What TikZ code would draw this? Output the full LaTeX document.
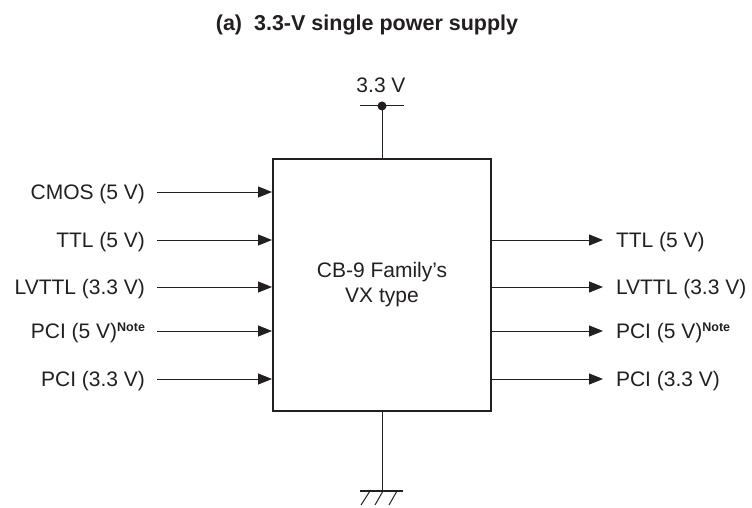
\documentclass[tikz,border=0pt]{standalone}
\usepackage{fontspec}
\setmainfont{Liberation Sans}
\usetikzlibrary{arrows.meta,calc}
\definecolor{ink}{HTML}{231F20}
\newcommand{\notesup}{\raisebox{7.5pt}{\fontsize{12.5}{14}\selectfont\bfseries Note}}
\begin{document}
\begin{tikzpicture}[x=1pt,y=-1pt,line width=1pt,draw=ink,
  every node/.style={inner sep=0pt,outer sep=0pt,text=ink},
  lbl/.style={font=\fontsize{21}{25}\selectfont},
  sig/.style={-{Triangle[length=14pt,width=11pt]},shorten >=1pt}]
\useasboundingbox (0,0) rectangle (752,508);
% title
\node[font=\bfseries\fontsize{21.5}{26}\selectfont,anchor=base] (title) at (367,31) {(a)\ \ 3.3-V single power supply};
% chip
\node[draw=ink,line width=2pt,minimum width=218pt,minimum height=252pt,anchor=north west,
      align=center,lbl] (chip) at (273,159) {CB-9 Family’s\\VX type};
% power
\node[lbl,anchor=base] (vdd) at (381,93) {3.3 V};
\node[circle,fill=ink,minimum size=9pt] (dot) at (382,106) {};
\coordinate (pl) at (360,106);
\coordinate (pr) at (404,106);
\draw (pl) -- (pr);
\draw (dot) -- (dot |- chip.north);
% ground
\coordinate (gnd) at (382,491);
\coordinate (gl) at (360,491);
\coordinate (gr) at (403,491);
\draw (chip.south -| gnd) -- (gnd);
\draw[line width=1.3pt] (gl) -- (gr);
\foreach \a/\b in {370/361,383/375,397/389}{
  \draw (\a,491) -- (\b,505);
}
% inputs
\foreach \y/\t [count=\i] in {192/{CMOS (5 V)},240/{TTL (5 V)},287/{LVTTL (3.3 V)},331/{PCI (5 V)\notesup},379/{PCI (3.3 V)}}{
  \node[lbl,anchor=base east] (in\i) at (145,\y+7.5) {\t};
  \coordinate (a\i) at (157,\y);
  \draw[sig] (a\i) -- (a\i -| chip.west);
}
% outputs
\foreach \y/\t [count=\i] in {240/{TTL (5 V)},287/{LVTTL (3.3 V)},331/{PCI (5 V)\notesup},379/{PCI (3.3 V)}}{
  \node[lbl,anchor=base west] (out\i) at (616,\y+7.5) {\t};
  \coordinate (b\i) at (603,\y);
  \draw[sig,shorten >=0pt] (b\i -| chip.east) -- (b\i);
}
\end{tikzpicture}
\end{document}
